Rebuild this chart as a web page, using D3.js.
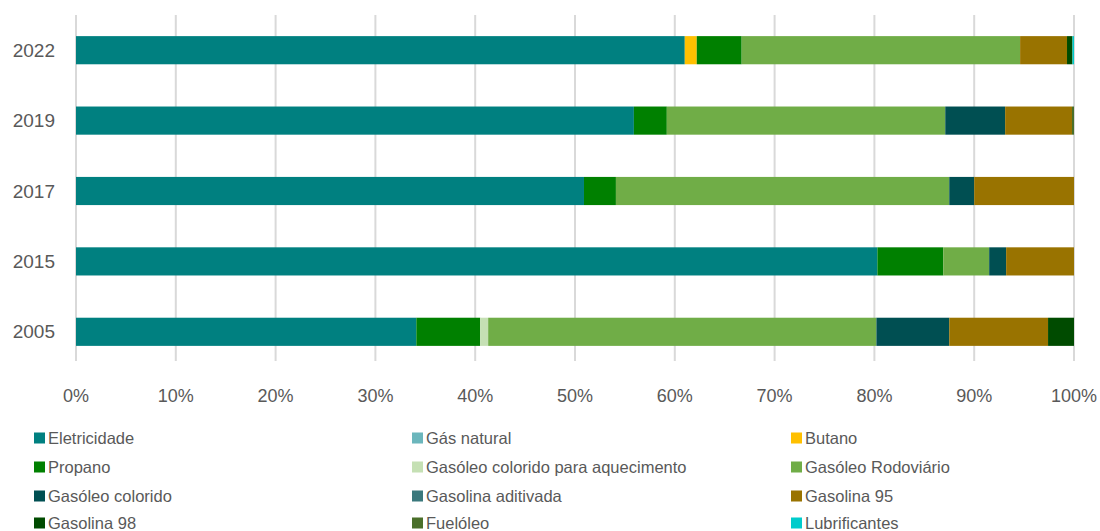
<!DOCTYPE html>
<html>
<head>
<meta charset="utf-8">
<script src="https://cdn.jsdelivr.net/npm/d3@7"></script>
<style>
  body { margin: 0; background: #fff; }
  text { font-family: "Liberation Sans", Arial, sans-serif; fill: #595959; }
</style>
</head>
<body>
<svg></svg>
<script>
const width = 1100
const height = 531
const marge = {top: 15, left: 76, right: 26}

// anos (de cima para baixo)
const years = ['2022', '2019', '2017', '2015', '2005']

const series = ['Eletricidade', 'Gás natural', 'Butano', 'Propano',
  'Gasóleo colorido para aquecimento', 'Gasóleo Rodoviário', 'Gasóleo colorido',
  'Gasolina aditivada', 'Gasolina 95', 'Gasolina 98', 'Fuelóleo', 'Lubrificantes']

const colors = ['#008080', '#6bb6bc', '#ffc000', '#008000', '#c5e0b4', '#70ad47',
  '#004f52', '#3a787c', '#997300', '#004b00', '#4a6f2a', '#00cccc']

// percentagens por série, na ordem de years
const eletricidade   = [61.0, 55.9, 50.9, 80.3, 34.1]
const gasNatural     = [0, 0, 0, 0, 0]
const butano         = [1.2, 0, 0, 0, 0]
const propano        = [4.5, 3.3, 3.2, 6.6, 6.4]
const gasoleoAquec   = [0, 0, 0, 0, 0.8]
const gasoleoRodov   = [27.9, 27.9, 33.4, 4.6, 38.9]
const gasoleoColor   = [0, 6.0, 2.5, 1.7, 7.3]
const gasolinaAditiv = [0, 0, 0, 0, 0]
const gasolina95     = [4.7, 6.7, 10.0, 6.8, 9.9]
const gasolina98     = [0.55, 0, 0, 0, 2.6]
const fuelóleo       = [0, 0.2, 0, 0, 0]
const lubrificantes  = [0.15, 0, 0, 0, 0]

const xTicks = [0, 10, 20, 30, 40, 50, 60, 70, 80, 90, 100]

const valuesBySeries = [eletricidade, gasNatural, butano, propano, gasoleoAquec,
  gasoleoRodov, gasoleoColor, gasolinaAditiv, gasolina95, gasolina98, fuelóleo, lubrificantes]

const table = years.map((y, i) => {
  const row = {year: y}
  series.forEach((s, k) => { row[s] = valuesBySeries[k][i] })
  return row
})

const svg = d3.select('svg').attr('width', width).attr('height', height)

const x = d3.scaleLinear().domain([0, 100]).range([marge.left, width - marge.right])
const y = d3.scaleBand().domain(years).range([marge.top, marge.top + 352]).paddingInner(0.6).paddingOuter(0.3)

// grelha
svg.append('g').selectAll('line').data(xTicks).enter().append('line')
  .attr('x1', d => x(d)).attr('x2', d => x(d))
  .attr('y1', marge.top).attr('y2', marge.top + 346)
  .attr('stroke', '#d9d9d9').attr('stroke-width', 2)

const stacked = d3.stack().keys(series)(table)

svg.append('g').selectAll('g').data(stacked).enter().append('g')
  .attr('fill', (d, i) => colors[i])
  .selectAll('rect').data(d => d).enter().append('rect')
  .attr('x', d => x(d[0]))
  .attr('width', d => x(d[1]) - x(d[0]))
  .attr('y', d => y(d.data.year))
  .attr('height', y.bandwidth())

// eixo dos anos
svg.append('g').selectAll('text').data(years).enter().append('text')
  .attr('x', 55).attr('y', d => y(d) + y.bandwidth() / 2)
  .attr('text-anchor', 'end').attr('dominant-baseline', 'central')
  .attr('font-size', 19)
  .text(d => d)

// eixo das percentagens
svg.append('g').selectAll('text').data(xTicks).enter().append('text')
  .attr('x', d => x(d)).attr('y', 396)
  .attr('text-anchor', 'middle').attr('dominant-baseline', 'central')
  .attr('font-size', 18)
  .text(d => d + '%')

// legenda: 3 colunas, 4 linhas
const colX = [34, 412, 791]
const rowY = [438, 467, 496, 523]
const leg = svg.append('g').selectAll('g').data(series).enter().append('g')
  .attr('transform', (d, i) => `translate(${colX[i % 3]}, ${rowY[Math.floor(i / 3)]})`)
leg.append('rect').attr('x', 0).attr('y', -5.5).attr('width', 11).attr('height', 11)
  .attr('fill', (d, i) => colors[i])
leg.append('text').attr('x', 14).attr('y', 0).attr('dominant-baseline', 'central')
  .attr('font-size', 16.5)
  .text(d => d)
</script>
</body>
</html>
